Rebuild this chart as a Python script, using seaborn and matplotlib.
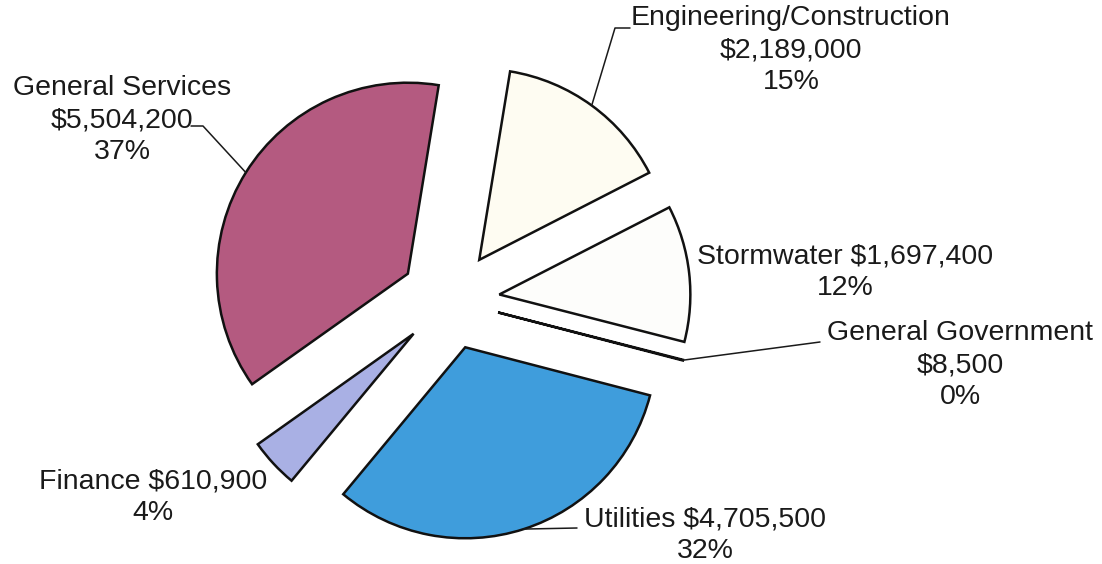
import matplotlib.pyplot as plt
import numpy as np
import seaborn as sns

sns.set_theme(style='white')
plt.rcParams['font.family'] = ['Liberation Sans', 'DejaVu Sans']

departments = ['Engineering/Construction', 'Stormwater', 'General Government',
               'Utilities', 'Finance', 'General Services']
budgets = [2189000, 1697400, 8500, 4705500, 610900, 5504200]
colors = ['#fefcf2', '#fdfdfb', '#fdfdfb', '#3f9ddc', '#a9b0e4', '#b45a80']
# how the name and the amount are joined in each label
seps = ['\n', ' ', '\n', ' ', ' ', '\n']

# label block centres and leader elbows, in image pixels
label_px = [(791, 50), (845, 272), (960, 365), (705, 535), (153, 497), (122, 120)]
leader_px = {0: [(615, 28), (630, 28)],
             2: [(820, 342)],
             3: [(577, 528)],
             5: [(203, 126), (191, 126)]}

W, H = 1102, 564
CX, CY, SCALE = 450, 300, 191.0


def p2d(px, py):
    return (px - CX) / SCALE, (CY - py) / SCALE


def main():
    total = sum(budgets)
    fig = plt.figure(figsize=(W / 100, H / 100), dpi=100)
    ax = fig.add_axes([0, 0, 1, 1])
    wedges, _ = ax.pie(budgets, colors=colors, startangle=80.7, counterclock=False,
                       explode=[0.26] * len(budgets), radius=1,
                       wedgeprops=dict(edgecolor='#111111', linewidth=1.8))

    for i, (name, val) in enumerate(zip(departments, budgets)):
        share = round(100 * val / total)
        txt = f'{name}{seps[i]}${val:,}\n{share}%'
        x, y = p2d(*label_px[i])
        ax.text(x, y, txt, ha='center', va='center', fontsize=20.5,
                linespacing=1.3, color='#1a1a1a')
        if i in leader_px:
            w = wedges[i]
            mid = np.deg2rad((w.theta1 + w.theta2) / 2)
            pts = [(w.center[0] + w.r * np.cos(mid), w.center[1] + w.r * np.sin(mid))]
            pts += [p2d(*p) for p in leader_px[i]]
            xs, ys = zip(*pts)
            ax.plot(xs, ys, color='#1a1a1a', lw=1.1)

    ax.set_xlim(-CX / SCALE, (W - CX) / SCALE)
    ax.set_ylim((CY - H) / SCALE, CY / SCALE)
    ax.set_aspect('auto')
    ax.axis('off')
    fig.savefig('out.png', dpi=100, facecolor='white')


if __name__ == '__main__':
    main()
